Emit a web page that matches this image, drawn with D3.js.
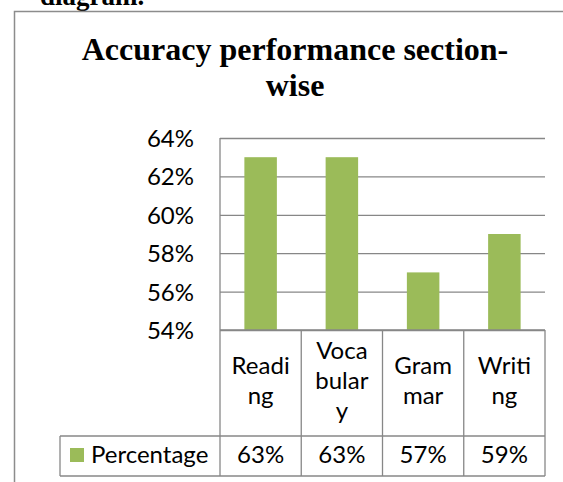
<!DOCTYPE html>
<html>
<head>
<meta charset="utf-8">
<script src="https://cdn.jsdelivr.net/npm/d3@7"></script>
<style>
  body { margin: 0; background: #fff; }
  svg { display: block; }
</style>
</head>
<body>
<div id="chart"></div>
<script>
// data
var categories = ["Reading", "Vocabulary", "Grammar", "Writing"];
var catLines = [["Readi", "ng"], ["Voca", "bular", "y"], ["Gram", "mar"], ["Writi", "ng"]];
var values = [0.63, 0.63, 0.57, 0.59];
var valueLabels = ["63%", "63%", "57%", "59%"];
var yTicks = [0.54, 0.56, 0.58, 0.60, 0.62, 0.64];
var seriesName = "Percentage";
var titleLines = ["Accuracy performance section-", "wise"];

var W = 563, H = 482;
var green = "#9bbb59", grid = "#878787";
var sans = "Lato, 'Open Sans', sans-serif";
var fs = "24px";

var svg = d3.select("#chart").append("svg")
    .attr("width", W).attr("height", H);

// text of the document above the figure, cut off at the top
svg.append("text")
    .attr("x", 40).attr("y", 5)
    .style("font-family", "'Liberation Serif', 'Times New Roman', serif")
    .style("font-weight", "bold").style("font-size", "27px")
    .text("diagram.");

// outer frame (only left and top visible)
svg.append("path")
    .attr("d", "M14.5,482 V11.5 H563")
    .attr("fill", "none").attr("stroke", "#8c8c8c").attr("stroke-width", 1.5);

// title
svg.append("g").selectAll("text")
    .data(titleLines)
    .enter().append("text")
    .attr("x", 295)
    .attr("y", function(d, i) { return 60 + i * 36; })
    .attr("text-anchor", "middle")
    .style("font-family", "'Liberation Serif', 'Times New Roman', serif")
    .style("font-weight", "bold").style("font-size", "32px")
    .text(function(d) { return d; });

// scales
var x = d3.scaleBand()
    .domain(categories)
    .range([220, 545])
    .paddingInner(0.6)
    .paddingOuter(0.3);

var y = d3.scaleLinear()
    .domain([0.54, 0.64])
    .range([330, 138]);

var step = x.step();
var left = 220, right = 545;
var rowTop = 436, rowBottom = 476;

// gridlines
svg.append("g")
    .attr("transform", "translate(" + left + ",0)")
    .call(d3.axisLeft(y).tickValues(yTicks).tickSize(-(right - left)).tickFormat(""))
    .call(function(g) { g.select(".domain").remove(); })
    .selectAll("line")
    .attr("stroke", grid).attr("stroke-width", 1.3);

// y tick labels
svg.append("g")
    .attr("transform", "translate(194,0)")
    .call(d3.axisLeft(y).tickValues(yTicks).tickSize(0).tickPadding(0).tickFormat(d3.format(".0%")))
    .call(function(g) { g.select(".domain").remove(); })
    .selectAll("text")
    .style("font-family", sans).style("font-size", fs)
    .attr("fill", "#000").attr("dy", "0.35em");

// bars
svg.append("g").selectAll("rect")
    .data(values)
    .enter().append("rect")
    .attr("x", function(d, i) { return x(categories[i]); })
    .attr("width", x.bandwidth())
    .attr("y", function(d) { return y(d); })
    .attr("height", function(d) { return y(0.54) - y(d); })
    .attr("fill", green);

// data table lines
var lines = svg.append("g")
    .attr("stroke", grid).attr("stroke-width", 1.3).attr("fill", "none");

// y axis line running down into the table
lines.append("line").attr("x1", left).attr("x2", left).attr("y1", y(0.64)).attr("y2", rowBottom);
lines.append("line").attr("x1", left).attr("x2", right).attr("y1", y(0.54)).attr("y2", y(0.54));
lines.append("line").attr("x1", 60).attr("x2", right).attr("y1", rowTop).attr("y2", rowTop);
lines.append("line").attr("x1", 60).attr("x2", right).attr("y1", rowBottom).attr("y2", rowBottom);
lines.append("line").attr("x1", 60).attr("x2", 60).attr("y1", rowTop).attr("y2", rowBottom);

lines.selectAll(".sep")
    .data(categories)
    .enter().append("line")
    .attr("class", "sep")
    .attr("x1", function(d) { return x(d) - step * x.paddingInner() / 2 + step; })
    .attr("x2", function(d) { return x(d) - step * x.paddingInner() / 2 + step; })
    .attr("y1", y(0.54)).attr("y2", rowBottom);

// category labels (wrapped like the original)
var cat = svg.append("g").selectAll("text")
    .data(catLines)
    .enter().append("text")
    .attr("text-anchor", "middle")
    .style("font-family", sans).style("font-size", fs)
    .attr("fill", "#000");

cat.each(function(linesArr, i) {
  var cx = x(categories[i]) + x.bandwidth() / 2;
  var first = 389 - (linesArr.length - 1) * 30 / 2;
  d3.select(this).selectAll("tspan")
      .data(linesArr)
      .enter().append("tspan")
      .attr("x", cx)
      .attr("y", function(d, j) { return first + j * 30; })
      .text(function(d) { return d; });
});

// value row
svg.append("g").selectAll("text")
    .data(valueLabels)
    .enter().append("text")
    .attr("x", function(d, i) { return x(categories[i]) + x.bandwidth() / 2; })
    .attr("y", 463)
    .attr("text-anchor", "middle")
    .style("font-family", sans).style("font-size", fs)
    .attr("fill", "#000")
    .text(function(d) { return d; });

// legend key in the table
svg.append("rect")
    .attr("x", 70).attr("y", 448).attr("width", 14).attr("height", 14)
    .attr("fill", green);
svg.append("text")
    .attr("x", 91).attr("y", 463)
    .style("font-family", sans).style("font-size", fs)
    .attr("fill", "#000")
    .text(seriesName);
</script>
</body>
</html>
